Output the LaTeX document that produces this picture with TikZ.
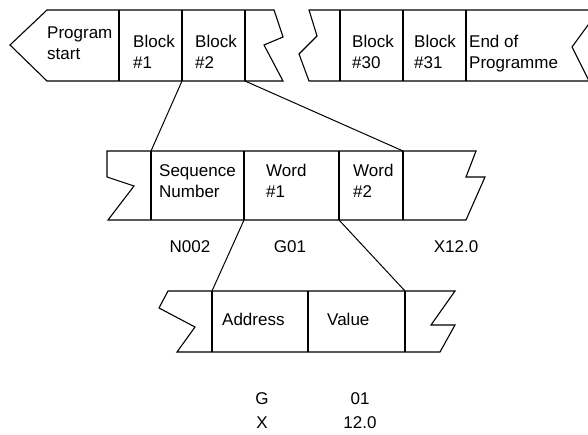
\documentclass[tikz,border=0pt]{standalone}
\usepackage{fontspec}
\setmainfont{Liberation Sans}
\begin{document}
\begin{tikzpicture}[x=1pt,y=-1pt,
  outline/.style={draw=black,line width=1.1pt,line join=miter},
  divider/.style={draw=black,line width=1.1pt},
  link/.style={draw=black,line width=1pt},
  cell/.style={anchor=north west,inner sep=0pt,align=left,font=\fontsize{17}{21}\selectfont},
  lbl/.style={anchor=base,inner sep=0pt,font=\fontsize{17}{21}\selectfont},
  lblw/.style={anchor=base west,inner sep=0pt,font=\fontsize{17}{21}\selectfont}]
\useasboundingbox (0,0) rectangle (588,435);
\clip (0,0) rectangle (588,435);
% top row, first part
\draw[outline] (47,10) -- (274,10) -- (283,37) -- (264,45) -- (283,81) -- (47,81) -- (10,45) -- cycle;
\coordinate (t1t) at (119,10); \coordinate (t1b) at (119,81);
\coordinate (t2t) at (182,10); \coordinate (t2b) at (182,81);
\coordinate (t3t) at (245,10); \coordinate (t3b) at (245,81);
\draw[divider] (t1t) -- (t1b) (t2t) -- (t2b) (t3t) -- (t3b);
% top row, second part
\draw[outline] (309,10) -- (599,10) -- (572,47) -- (589,81) -- (309,81) -- (299,54) -- (317,36) -- cycle;
\coordinate (t4t) at (340,10); \coordinate (t4b) at (340,81);
\coordinate (t5t) at (403,10); \coordinate (t5b) at (403,81);
\coordinate (t6t) at (466,10); \coordinate (t6b) at (466,81);
\draw[divider] (t4t) -- (t4b) (t5t) -- (t5b) (t6t) -- (t6b);
% middle row
\draw[outline] (107,151) -- (476,151) -- (466,177) -- (485,177) -- (466,220) -- (108,220) -- (134,186) -- (107,177) -- cycle;
\coordinate (m1t) at (151,151); \coordinate (m1b) at (151,220);
\coordinate (m2t) at (244,151); \coordinate (m2b) at (244,220);
\coordinate (m3t) at (339,151); \coordinate (m3b) at (339,220);
\coordinate (m4t) at (403,151); \coordinate (m4b) at (403,220);
\draw[divider] (m1t) -- (m1b) (m2t) -- (m2b) (m3t) -- (m3b) (m4t) -- (m4b);
% bottom row
\draw[outline] (168,291) -- (455,291) -- (431,325) -- (455,325) -- (440,352) -- (177,352) -- (195,327) -- (159,308) -- cycle;
\coordinate (b1t) at (212,291); \coordinate (b1b) at (212,352);
\coordinate (b2t) at (308,291); \coordinate (b2b) at (308,352);
\coordinate (b3t) at (405,291); \coordinate (b3b) at (405,352);
\draw[divider] (b1t) -- (b1b) (b2t) -- (b2b) (b3t) -- (b3b);
% connectors
\draw[link] (t2b) -- (m1t);
\draw[link] (t3b) -- (m4t);
\draw[link] (m2b) -- (b1t);
\draw[link] (m3b) -- (b3t);
% texts
\node[cell] (ps) at (47,27) {Program\\start};
\node[cell] (bk1) at (133,35) {Block\\\#1};
\node[cell] (bk2) at (195,35) {Block\\\#2};
\node[cell] (bk30) at (352,35) {Block\\\#30};
\node[cell] (bk31) at (414,35) {Block\\\#31};
\node[cell] (eop) at (469,35) {End of\\Programme};
\node[cell] (seq) at (159,164) {Sequence\\Number};
\node[cell] (w1) at (266,164) {Word\\\#1};
\node[cell] (w2) at (353,164) {Word\\\#2};
\node[lbl] (n002) at (190,253) {N002};
\node[lbl] (g01) at (290,253) {G01};
\node[lbl] (x12) at (456,253) {X12.0};
\node[lblw] (addr) at (222,325) {Address};
\node[lblw] (val) at (327,325) {Value};
\node[lbl] (ga) at (262,404) {G};
\node[lbl] (gv) at (360,404) {01};
\node[lbl] (xa) at (262,428) {X};
\node[lbl] (xv) at (360,428) {12.0};
\end{tikzpicture}
\end{document}
